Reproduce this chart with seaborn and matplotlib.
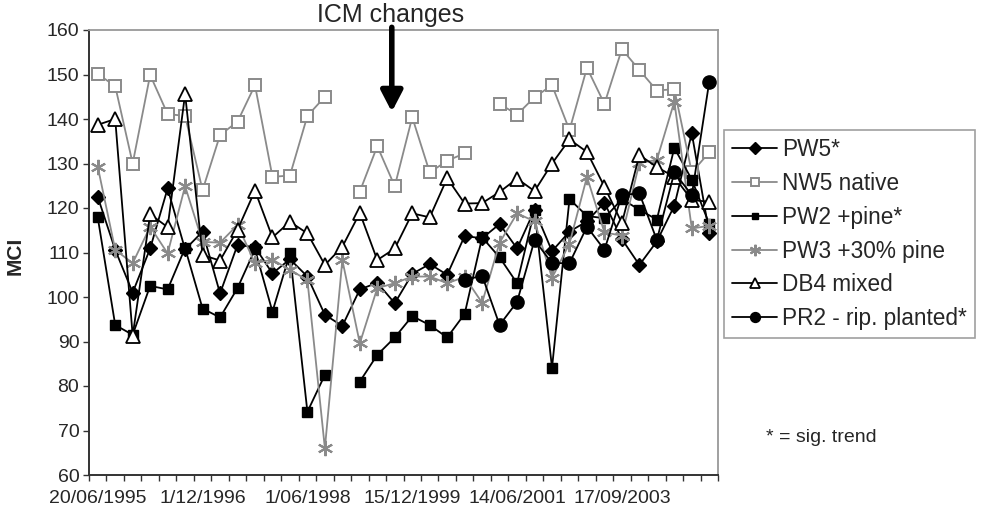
import numpy as np
import pandas as pd
import matplotlib
matplotlib.use("Agg")
import matplotlib.pyplot as plt
import seaborn as sns
from matplotlib.lines import Line2D

nan = np.nan

# ---- data ----
sample_dates = ["20/06/1995", "1/12/1996", "1/06/1998", "15/12/1999", "14/06/2001", "17/09/2003"]
label_step = 6          # one date label every 6 samples
n_samples = 36

pw5 = [122.5, 110.6, 101.0, 110.9, 124.4, 110.7, 114.7, 100.8, 111.7, 111.2,
       105.3, 108.5, 104.6, 96.0, 93.5, 101.7, 103.2, 98.6, 105.2, 107.4,
       105.0, 113.7, 113.2, 116.4, 110.9, 119.6, 110.3, 114.7, 117.0, 121.2,
       113.0, 107.2, 112.5, 120.5, 136.8, 114.3]
nw5 = [150.1, 147.4, 130.0, 149.9, 141.1, 140.7, 124.0, 136.4, 139.4, 147.6,
       127.0, 127.3, 140.7, 145.0, nan, 123.7, 133.9, 124.9, 140.4, 128.0,
       130.6, 132.3, nan, 143.4, 141.0, 144.9, 147.6, 137.5, 151.5, 143.4,
       155.7, 151.0, 146.4, 146.7, 128.0, 132.5]
pw2 = [117.9, 93.7, 91.5, 102.5, 101.7, 111.0, 97.4, 95.4, 102.0, 110.7,
       96.7, 109.8, 74.2, 82.5, nan, 81.0, 87.0, 90.9, 95.7, 93.7,
       90.9, 96.2, 113.4, 108.9, 103.1, 119.5, 84.1, 122.0, 118.2, 117.7,
       122.0, 119.6, 117.4, 133.5, 126.4, 116.4]
pw3 = [129.3, 110.6, 107.6, 115.8, 109.8, 124.9, 112.4, 112.2, 116.2, 107.6,
       108.4, 106.1, 103.8, 66.0, 108.3, 89.6, 102.0, 103.1, 104.6, 104.6,
       103.1, 104.5, 98.7, 112.2, 118.8, 117.0, 104.3, 112.0, 127.0, 114.5,
       113.8, 130.1, 130.8, 143.9, 115.4, 116.0]
db4 = [138.7, 140.0, 91.3, 118.6, 115.7, 145.6, 109.4, 108.2, 115.1, 123.9,
       113.4, 116.9, 114.3, 107.2, 111.3, 118.9, 108.3, 110.9, 118.8, 117.9,
       126.7, 121.0, 121.1, 123.6, 126.6, 123.8, 130.0, 135.4, 132.6, 124.8,
       116.6, 131.9, 129.2, 127.0, 121.8, 121.4]
pr2 = [nan, nan, nan, nan, nan, nan, nan, nan, nan, nan,
       nan, nan, nan, nan, nan, nan, nan, nan, nan, nan,
       nan, 103.8, 104.8, 93.7, 98.9, 112.8, 107.6, 107.6, 115.8, 110.6,
       122.9, 123.3, 112.8, 128.0, 122.9, 148.4]

series_names = ["PW5*", "NW5 native", "PW2 +pine*", "PW3 +30% pine", "DB4 mixed", "PR2 - rip. planted*"]
series_values = [pw5, nw5, pw2, pw3, db4, pr2]

# ---- styles ----
GRAY = "#8a8a8a"
styles = [
    dict(color="black", marker="D", markersize=7.5, markerfacecolor="black", markeredgecolor="black", markeredgewidth=1.0),
    dict(color=GRAY, marker="s", markersize=8.5, markerfacecolor="white", markeredgecolor=GRAY, markeredgewidth=1.4),
    dict(color="black", marker="s", markersize=6.5, markerfacecolor="black", markeredgecolor="black", markeredgewidth=1.0),
    dict(color=GRAY, marker=(6, 2, 0), markersize=11, markerfacecolor=GRAY, markeredgecolor=GRAY, markeredgewidth=1.5),
    dict(color="black", marker="^", markersize=9.5, markerfacecolor="white", markeredgecolor="black", markeredgewidth=1.3),
    dict(color="black", marker="o", markersize=9.5, markerfacecolor="black", markeredgecolor="black", markeredgewidth=1.0),
]

sns.set_style("white")
plt.rcParams["font.family"] = ["Liberation Sans", "DejaVu Sans"]

fig = plt.figure(figsize=(9.89, 5.12), dpi=100)
ax = fig.add_axes([89 / 989, 1 - 475 / 512, (718 - 89) / 989, (475 - 30) / 512])

for k, (name, vals, st) in enumerate(zip(series_names, series_values, styles)):
    v = np.asarray(vals, dtype=float)
    df = pd.DataFrame({"idx": np.arange(n_samples), "value": v,
                       "seg": np.cumsum(np.isnan(v))})
    df = df.dropna()
    sns.lineplot(data=df, x="idx", y="value", units="seg", estimator=None,
                 ax=ax, legend=False, linewidth=1.3, zorder=3 + k, **st)

ax.set_xlim(-0.5, n_samples - 0.5)
ax.set_ylim(60, 160)
ax.set_xlabel("")
ax.set_ylabel("")

label_pos = [i * label_step for i in range(len(sample_dates))]
ax.set_xticks(label_pos)
ax.set_xticklabels(sample_dates)
ax.set_xticks(np.arange(-0.5, n_samples, 1), minor=True)
ax.tick_params(axis="x", which="major", length=0, pad=11, labelsize=14)
ax.tick_params(axis="x", which="minor", length=4, width=1, direction="out", color="#333333", bottom=True)
ax.set_yticks(np.arange(60, 161, 10))
ax.tick_params(axis="y", which="major", length=4, width=1, direction="out", pad=3, labelsize=14,
               color="#333333", left=True)

for side in ("left", "bottom"):
    ax.spines[side].set_color("#333333")
    ax.spines[side].set_linewidth(1.4)
for side in ("top", "right"):
    ax.spines[side].set_color("#999999")
    ax.spines[side].set_linewidth(1.3)

fig.text(15 / 989, 0.5, "MCI", rotation=90, ha="center", va="center", fontsize=15, fontweight="bold")

# ICM changes annotation
ax.annotate("", xy=(16.83, 141.6), xytext=(16.83, 160.6), annotation_clip=False,
            arrowprops=dict(arrowstyle="-|>,head_length=0.5,head_width=0.26", mutation_scale=25,
                            lw=4, color="black", shrinkA=0, shrinkB=0))
fig.text(391 / 989, 1 - 15 / 512, "ICM changes", ha="center", va="center", fontsize=18)

# legend
handles = [Line2D([0], [0], linewidth=1.3, **{**st, "markersize": st["markersize"] * 0.75}) for st in styles]
leg = fig.legend(handles, series_names, loc="upper left", bbox_to_anchor=(724 / 989, 1 - 130 / 512),
                 frameon=True, fancybox=False, fontsize=16.3, handlelength=2.0, handletextpad=0.2,
                 labelspacing=0.48, borderpad=0.35, borderaxespad=0)
leg.get_frame().set_edgecolor("#888888")
leg.get_frame().set_linewidth(1.2)

fig.text(766 / 989, 1 - 438 / 512, "* = sig. trend", ha="left", va="center", fontsize=14)

fig.savefig("out.png", dpi=100)
